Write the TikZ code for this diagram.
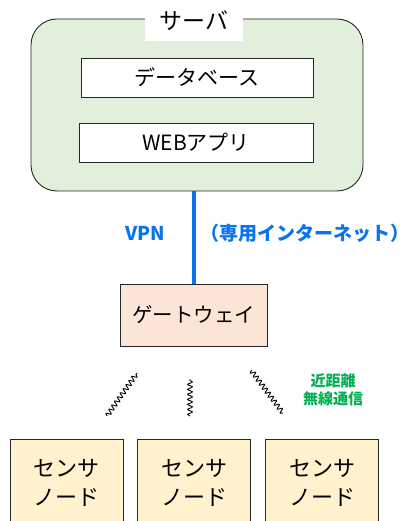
\documentclass[tikz,border=0pt]{standalone}
\usepackage{fontspec}
\newfontfamily\cjk{Noto Sans CJK JP}
\usetikzlibrary{decorations.pathmorphing}
\definecolor{servergreen}{HTML}{E2EFDA}
\definecolor{gwfill}{HTML}{FBE5D6}
\definecolor{sensorfill}{HTML}{FFF2CC}
\definecolor{vpnblue}{HTML}{0A74F0}
\definecolor{radiogreen}{HTML}{00B050}
\tikzset{
  box/.style={draw=black!85, line width=0.9pt, inner sep=0pt, font=\cjk\fontsize{21}{24}\selectfont},
  wave/.style={decorate, decoration={snake, amplitude=2.4pt, segment length=5pt}, line width=0.9pt},
  bluelabel/.style={text=vpnblue, inner sep=0pt, font=\cjk\bfseries\fontsize{19}{24}\selectfont},
}
\begin{document}
\begin{tikzpicture}[x=1pt, y=-1pt]
\useasboundingbox (0,0) rectangle (412,521);
\begin{scope}
\clip (0,0) rectangle (412,521);
% server enclosure
\node[box, fill=servergreen, rounded corners=26pt, minimum width=332pt, minimum height=172pt] (server) at (197,105) {};
\node[fill=white, inner sep=0pt, minimum width=98pt, minimum height=41pt, font=\cjk\fontsize{23}{26}\selectfont] (servername) at (194,20.5) {サーバ};
\node[box, fill=white, minimum width=232pt, minimum height=39pt] (db) at (197,77.5) {データベース};
\node[box, fill=white, minimum width=234pt, minimum height=39pt] (web) at (196,142.5) {WEBアプリ};
% gateway
\node[box, fill=gwfill, minimum width=147pt, minimum height=62pt, font=\cjk\fontsize{20.5}{24}\selectfont] (gw) at (193.5,315) {ゲートウェイ};
\draw[vpnblue, line width=4pt] (server.south -| gw.north) -- (gw.north);
\node[bluelabel] (vpn) at (145,233) {VPN};
\node[bluelabel, anchor=west] (net) at (200,233) {（専用インターネット）};
% sensor nodes
\foreach \n/\x in {s1/66.5, s2/194, s3/322}{
  \node[box, fill=sensorfill, minimum width=113pt, minimum height=100pt] (\n) at (\x,489) {};
  \node[font=\cjk\fontsize{22}{29}\selectfont, align=center] (\n t) at (\x,482.5) {センサ\\ノード};
}
\end{scope}
% radio links
\coordinate (w1a) at (107,416); \coordinate (w1b) at (137,373);
\coordinate (w2a) at (190,416); \coordinate (w2b) at (190,379);
\coordinate (w3a) at (283,413); \coordinate (w3b) at (251,370);
\draw[wave] (w1a) -- (w1b);
\draw[wave] (w2a) -- (w2b);
\draw[wave] (w3a) -- (w3b);
\node[text=radiogreen, align=center, font=\cjk\bfseries\fontsize{15}{18}\selectfont] (radio) at (333,390) {近距離\\無線通信};
\end{tikzpicture}
\end{document}
